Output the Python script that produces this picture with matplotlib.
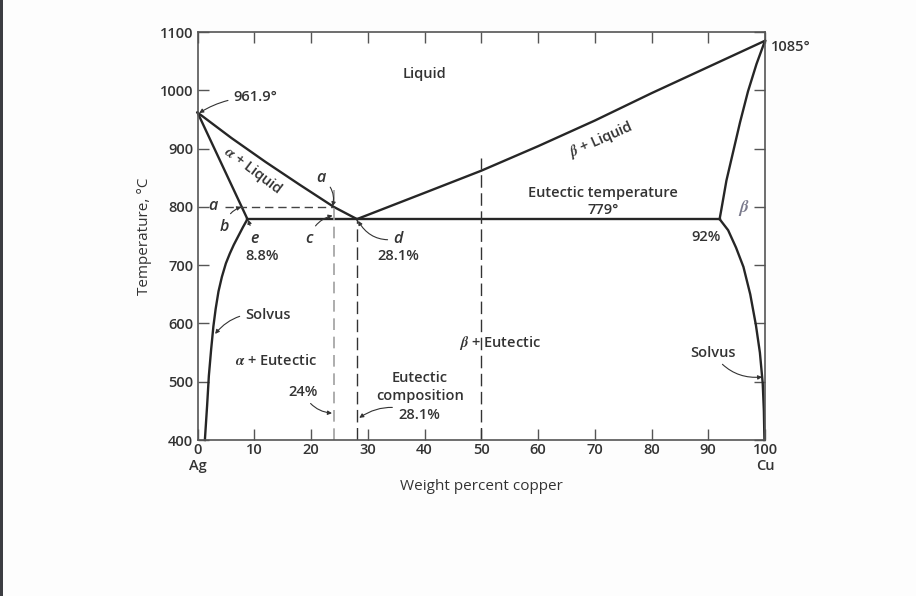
import matplotlib
matplotlib.use('Agg')
import matplotlib.pyplot as plt
from matplotlib.patches import Rectangle

plt.rcParams['font.family'] = ['Open Sans', 'DejaVu Sans']
plt.rcParams['font.weight'] = 'semibold'
plt.rcParams['mathtext.fontset'] = 'stix'

TXT = '#333333'
LINE = '#262626'
GREEK = '#7a7a8c'
LW = 1.7

# phase boundaries (wt% Cu, deg C)
left_liq_x = [0, 6, 12, 18, 24, 28.1]
left_liq_t = [961.9, 918, 877, 838, 800, 779]
left_sol_x = [0, 8.8]
left_sol_t = [961.9, 779]
left_solvus_x = [8.8, 8.0, 7.2, 6.4, 5.7, 5.0, 4.3, 3.7, 3.2, 2.8, 2.4, 2.0, 1.7, 1.3]
left_solvus_t = [779, 765, 750, 735, 720, 703, 680, 655, 625, 595, 555, 510, 460, 400]
right_liq_x = [28.1, 40, 50, 60, 70, 80, 90, 100]
right_liq_t = [779, 824, 862, 904, 948, 995, 1040, 1085]
right_sol_x = [92, 92.3, 93.2, 94.4, 95.6, 97.0, 98.5, 100]
right_sol_t = [779, 795, 845, 895, 945, 998, 1045, 1085]
right_solvus_x = [92, 93.5, 94.9, 96.2, 97.4, 98.4, 99.1, 99.6, 99.8, 99.9]
right_solvus_t = [779, 760, 730, 697, 650, 597, 550, 497, 450, 400]
eutectic_x = [8.8, 92]
eutectic_t = [779, 779]

x_ticks = [0, 10, 20, 30, 40, 50, 60, 70, 80, 90, 100]
x_labels = ['0\nAg', '10', '20', '30', '40', '50', '60', '70', '80', '90', '100\nCu']
y_ticks = [400, 500, 600, 700, 800, 900, 1000, 1100]

fig = plt.figure(figsize=(9.16, 5.96), dpi=100)
fig.patch.set_facecolor('#fdfdfd')
fig.patches.append(Rectangle((0, 0), 2.5 / 916, 1, transform=fig.transFigure,
                             facecolor='#3c3d42', edgecolor='none'))
ax = fig.add_axes([197.5 / 916, 1 - 440 / 596, (765 - 197.5) / 916, (440 - 32) / 596])
ax.set_facecolor('white')

for xs, ts in [(left_liq_x, left_liq_t), (left_sol_x, left_sol_t),
               (left_solvus_x, left_solvus_t), (right_liq_x, right_liq_t),
               (right_sol_x, right_sol_t), (right_solvus_x, right_solvus_t),
               (eutectic_x, eutectic_t)]:
    ax.plot(xs, ts, color=LINE, lw=LW, solid_joinstyle='round', clip_on=False)

# construction lines
ax.plot([4.8, 24], [800, 800], color='#444', lw=1.0, dashes=(6, 3.5))
ax.plot([24, 24], [400, 829], color='#a0a0a0', lw=1.2, dashes=(7, 4))
ax.plot([28.1, 28.1], [400, 779], color='#333', lw=1.0, dashes=(9, 4))
ax.plot([50, 50], [400, 883], color='#333', lw=1.0, dashes=(9, 4))

ax.set_xlim(0, 100)
ax.set_ylim(400, 1100)
ax.set_xticks(x_ticks)
ax.set_xticklabels(x_labels, linespacing=1.2)
ax.set_yticks(y_ticks)
ax.tick_params(direction='in', length=8, width=1.0, color='#555', labelsize=10.5,
               labelcolor=TXT, top=True, right=True, pad=3)
ax.tick_params(axis='x', pad=2)
for s in ax.spines.values():
    s.set_color('#555')
    s.set_linewidth(1.2)

ax.set_xlabel('Weight percent copper', fontsize=11, color=TXT, labelpad=4)
ax.set_ylabel('Temperature, °C', fontsize=11, color=TXT, labelpad=6)

fs = 10.5
kw = dict(fontsize=fs, color=TXT, ha='center', va='center')
ikw = dict(fontsize=fs + 1, color=TXT, ha='center', va='center', style='italic')


def arrow(txt, xy, xytext, rad, **k):
    ax.annotate(txt, xy=xy, xytext=xytext,
                arrowprops=dict(arrowstyle='-|>', color='#333', lw=0.8,
                                mutation_scale=6, shrinkA=2, shrinkB=0,
                                connectionstyle=f'arc3,rad={rad}'), **k)


ax.text(40, 1028, 'Liquid', **kw)
arrow('961.9°', (0.3, 961), (10.2, 988), 0.15, **kw)
ax.text(101, 1074, '1085°', fontsize=fs, color=TXT, ha='left', va='center', clip_on=False)
ax.text(9.8, 862, r'$\alpha$ + Liquid', rotation=-37, rotation_mode='anchor', **kw)
ax.text(71.0, 915, r'$\beta$ + Liquid', rotation=24, rotation_mode='anchor', **kw)
ax.text(71.5, 823, 'Eutectic temperature', **kw)
ax.text(71.5, 794, '779°', **kw)
ax.text(96.2, 798, r'$\beta$', fontsize=fs + 2, color=GREEK, ha='center', va='center')
ax.text(89.6, 748, '92%', **kw)

ax.text(2.8, 801, 'a', **ikw)
arrow('a', (23.8, 801), (21.8, 849), -0.35, **ikw)
arrow('b', (7.7, 800), (4.8, 766), -0.3, **ikw)
arrow('c', (23.8, 785), (19.7, 745), -0.3, **ikw)
arrow('e', (8.9, 778), (10.1, 745), 0.0, **ikw)
ax.text(11.3, 716, '8.8%', **kw)
arrow('d', (28.3, 776), (35.3, 745), -0.35, **ikw)
ax.text(35.4, 716, '28.1%', **kw)

arrow('Solvus', (3.1, 582), (12.4, 614), 0.3, **kw)
ax.text(13.9, 537, r'$\alpha$ + Eutectic', **kw)
arrow('24%', (23.7, 446), (18.6, 483), 0.3, **kw)
ax.text(39.2, 506, 'Eutectic', **kw)
ax.text(39.2, 475, 'composition', **kw)
arrow('28.1%', (28.5, 438), (39.0, 443), 0.3, **kw)
ax.text(53.3, 566, r'$\beta$ + Eutectic', **kw)
arrow('Solvus', (99.5, 508), (90.8, 550), 0.3, **kw)

fig.savefig('out.png', dpi=100, facecolor=fig.get_facecolor())
